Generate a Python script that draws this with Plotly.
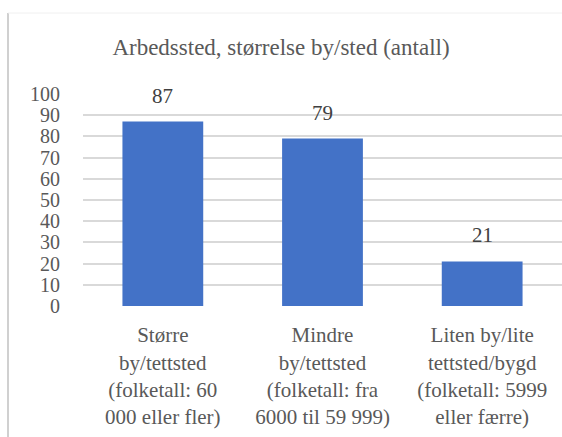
import plotly.graph_objects as go

categories = [
    "Større<br>by/tettsted<br>(folketall: 60<br>000 eller fler)",
    "Mindre<br>by/tettsted<br>(folketall: fra<br>6000 til 59 999)",
    "Liten by/lite<br>tettsted/bygd<br>(folketall: 5999<br>eller færre)",
]
values = [87, 79, 21]
y_ticks = [0, 10, 20, 30, 40, 50, 60, 70, 80, 90, 100]

W, H = 562, 437
ML, MR, MT, MB = 83, 0, 94, 131
FONT = "Liberation Serif, Liberation Sans, sans-serif"


def px_x(px):
    # pixel -> paper x
    return (px - ML) / (W - ML - MR)


def px_y(py):
    # pixel (from top) -> paper y
    return (H - MB - py) / (H - MT - MB)


fig = go.Figure()
fig.add_trace(go.Bar(
    x=categories,
    y=values,
    width=0.506,
    marker_color="#4372c7",
    marker_line_width=0,
))

for c, v in zip(categories, values):
    fig.add_annotation(
        x=c, y=v, text=str(v), showarrow=False,
        yanchor="bottom", yshift=12,
        font=dict(family=FONT, size=21, color="#404040"),
    )

# frame of the document box
fig.add_shape(type="line", xref="paper", yref="paper",
              x0=px_x(8), x1=px_x(8), y0=px_y(13), y1=px_y(437),
              line=dict(color="#d0d0d0", width=2))
fig.add_shape(type="line", xref="paper", yref="paper",
              x0=px_x(8), x1=px_x(562), y0=px_y(13), y1=px_y(13),
              line=dict(color="#f0f0f0", width=1))

fig.update_layout(
    width=W, height=H,
    margin=dict(l=ML, r=MR, t=MT, b=MB),
    paper_bgcolor="white",
    plot_bgcolor="white",
    showlegend=False,
    font=dict(family=FONT, size=21, color="#595959"),
    title=dict(
        text="Arbedssted, størrelse by/sted (antall)",
        x=0.5, xref="container", xanchor="center",
        y=1 - 47 / H, yref="container", yanchor="middle",
        font=dict(family=FONT, size=23, color="#595959"),
    ),
    bargap=0.494,
)
fig.update_yaxes(
    range=[0, 100],
    tickvals=y_ticks,
    showgrid=True, gridcolor="#d9d9d9", gridwidth=1.5,
    zeroline=False,
    ticks="outside", ticklen=18, tickcolor="rgba(0,0,0,0)",
    tickfont=dict(family=FONT, size=20, color="#595959"),
)
fig.update_xaxes(
    showgrid=False,
    ticks="outside", ticklen=10, tickcolor="rgba(0,0,0,0)",
    tickfont=dict(family=FONT, size=21, color="#595959"),
)

fig.write_html("out.html", config={"displayModeBar": False},
               post_script="document.body.style.margin='0';")
